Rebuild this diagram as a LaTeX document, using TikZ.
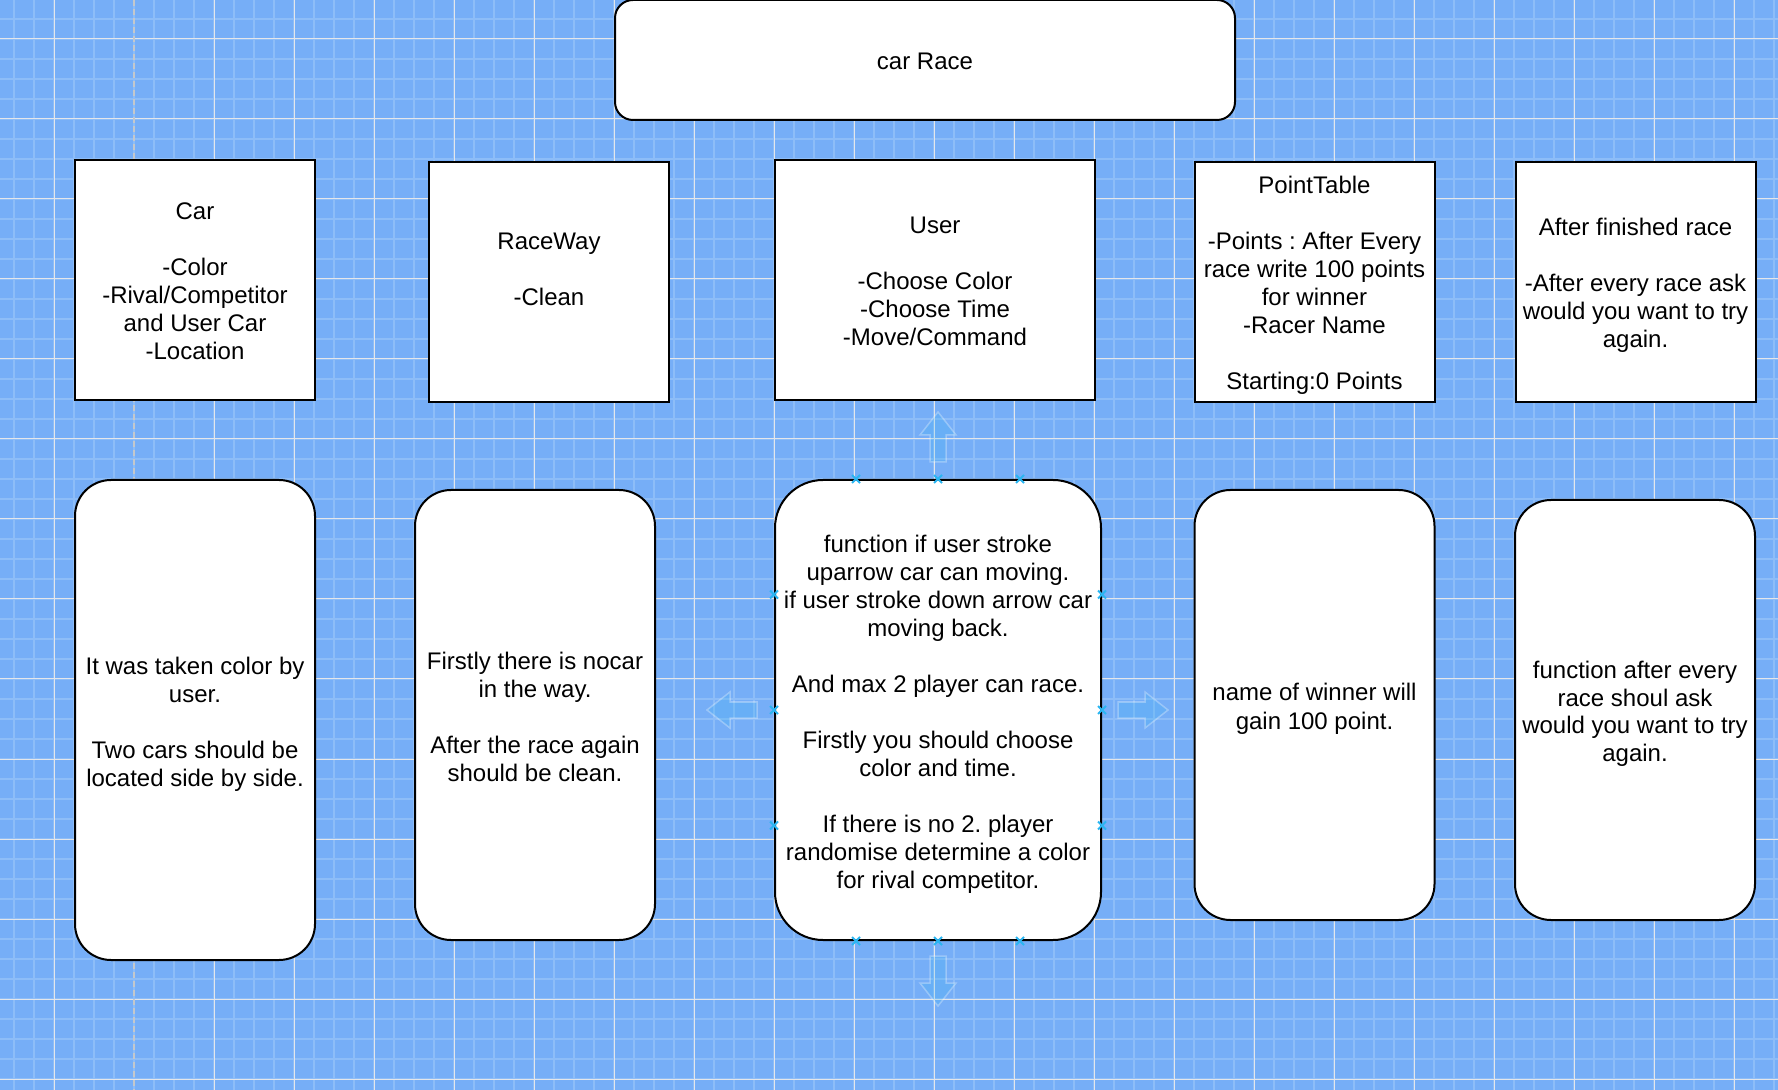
\documentclass[tikz,border=0pt]{standalone}
\usepackage{fontspec}
\setmainfont{Liberation Sans}
\usetikzlibrary{positioning,calc}
\frenchspacing

\definecolor{gridbg}{HTML}{76AEF7}
\definecolor{gridminor}{HTML}{8DBDF8}
\definecolor{gridmajor}{HTML}{E4E6EA}
\definecolor{pagebreak}{HTML}{C4C8CC}
\definecolor{hoverblue}{HTML}{29B6F2}

% struts so that the text block sits like draw.io line boxes
\newcommand{\toprow}{\rule{0pt}{13pt}}
\newcommand{\botrow}{\rule[-3pt]{0pt}{0pt}}

\begin{document}
\begin{tikzpicture}[x=0.5pt, y=-0.5pt,
    every node/.style={font=\fontsize{12}{14}\selectfont, align=center},
    titlebox/.style={rectangle, draw, line width=1pt, fill=white, rounded corners=9pt, minimum width=310pt, minimum height=60pt},
    classbox/.style={rectangle, draw, line width=1pt, fill=white, minimum width=120pt, minimum height=120pt, inner sep=2pt},
    funcbox/.style={rectangle, draw, line width=1pt, fill=white, rounded corners=18pt, minimum width=120pt, inner sep=2pt},
    hoverarrow/.style={fill=hoverblue, fill opacity=0.18, draw=white, draw opacity=0.3, line width=0.75pt},
    handle/.style={draw=hoverblue, line width=1pt},
    hoverarr/.pic={\filldraw[hoverarrow] (-8,0) -- (-8,-27) -- (-18,-27) -- (0,-50) -- (18,-27) -- (8,-27) -- (8,0) -- cycle;}
]
    \useasboundingbox (0,0) rectangle (1778,1090);

    % Grid background
    \fill[gridbg] (0,0) rectangle (1778,1090);
    \foreach \x in {14,34,...,1774} \draw[gridminor, line width=1pt] (\x,0) -- (\x,1090);
    \foreach \y in {19,39,...,1079} \draw[gridminor, line width=1pt] (0,\y) -- (1778,\y);
    \draw[gridmajor, line width=0.5pt] (54,0) -- (54,1090);
    \foreach \x in {214,294,...,1734} \draw[gridmajor, line width=0.5pt] (\x,0) -- (\x,1090);
    \foreach \y in {39,119,...,1079} \draw[gridmajor, line width=0.5pt] (0,\y) -- (1778,\y);
    \draw[pagebreak, line width=0.75pt, dash pattern=on 3pt off 1.5pt] (134,0) -- (134,1090);

    % Title
    \node[titlebox] (title) at (925,60) {\toprow car Race\botrow};

    % Classes
    \node[classbox] (car) at (195,280) {\toprow Car\\[14pt]-Color\\-Rival/Competitor\\and User Car\\-Location\botrow};
    \node[classbox] (raceway) at (549,282) {\toprow RaceWay\\[14pt]-Clean\\ \botrow};
    \node[classbox, minimum width=160pt] (user) at (935,280) {\toprow User\\[14pt]-Choose Color\\-Choose Time\\-Move/Command\botrow};
    \node[classbox] (points) at (1314.5,282) {\toprow PointTable\\[14pt]-Points : After Every\\race write 100 points\\for winner\\-Racer Name\\[14pt]Starting:0 Points\botrow};
    \node[classbox] (finish) at (1635.5,282) {\toprow After finished race\\[14pt]-After every race ask\\would you want to try\\again.\botrow};

    % Functions
    \node[funcbox, minimum height=240pt] (carFn) at (195,720) {\toprow It was taken color by\\user.\\[14pt]Two cars should be\\located side by side.\botrow};
    \node[funcbox, minimum height=225pt] (racewayFn) at (535,715) {\toprow Firstly there is nocar\\in the way.\\[14pt]After the race again\\should be clean.\botrow};
    \node[funcbox, minimum width=163pt, minimum height=230pt, rounded corners=24pt] (userFn) at (938,710) {\toprow function if user stroke\\uparrow car can moving.\\if user stroke down arrow car\\moving back.\\[14pt]And max 2 player can race.\\[14pt]Firstly you should choose\\color and time.\\[14pt]If there is no 2. player\\randomise determine a color\\for rival competitor.\botrow};
    \node[funcbox, minimum height=215pt] (pointsFn) at (1314.5,705) {\toprow name of winner will\\gain 100 point.\botrow};
    \node[funcbox, minimum height=210pt] (finishFn) at (1635,710) {\toprow function after every\\race shoul ask\\would you want to try\\again.\botrow};

    % Hover arrows and handles on userFn
    \pic at ($(userFn.north)+(0,-17)$) {hoverarr};
    \pic[rotate=90] at ($(userFn.west)+(-17,0)$) {hoverarr};
    \pic[rotate=-90] at ($(userFn.east)+(16,0)$) {hoverarr};
    \pic[rotate=180] at ($(userFn.south)+(0,15)$) {hoverarr};
    \foreach \f in {0.25,0.5,0.75} {
        \draw[handle] ($(userFn.north west)!\f!(userFn.north east)$) +(-4,-4) -- +(4,4) +(-4,4) -- +(4,-4);
        \draw[handle] ($(userFn.south west)!\f!(userFn.south east)$) +(-4,-4) -- +(4,4) +(-4,4) -- +(4,-4);
        \draw[handle] ($(userFn.north west)!\f!(userFn.south west)$) +(-4,-4) -- +(4,4) +(-4,4) -- +(4,-4);
        \draw[handle] ($(userFn.north east)!\f!(userFn.south east)$) +(-4,-4) -- +(4,4) +(-4,4) -- +(4,-4);
    }
\end{tikzpicture}
\end{document}
